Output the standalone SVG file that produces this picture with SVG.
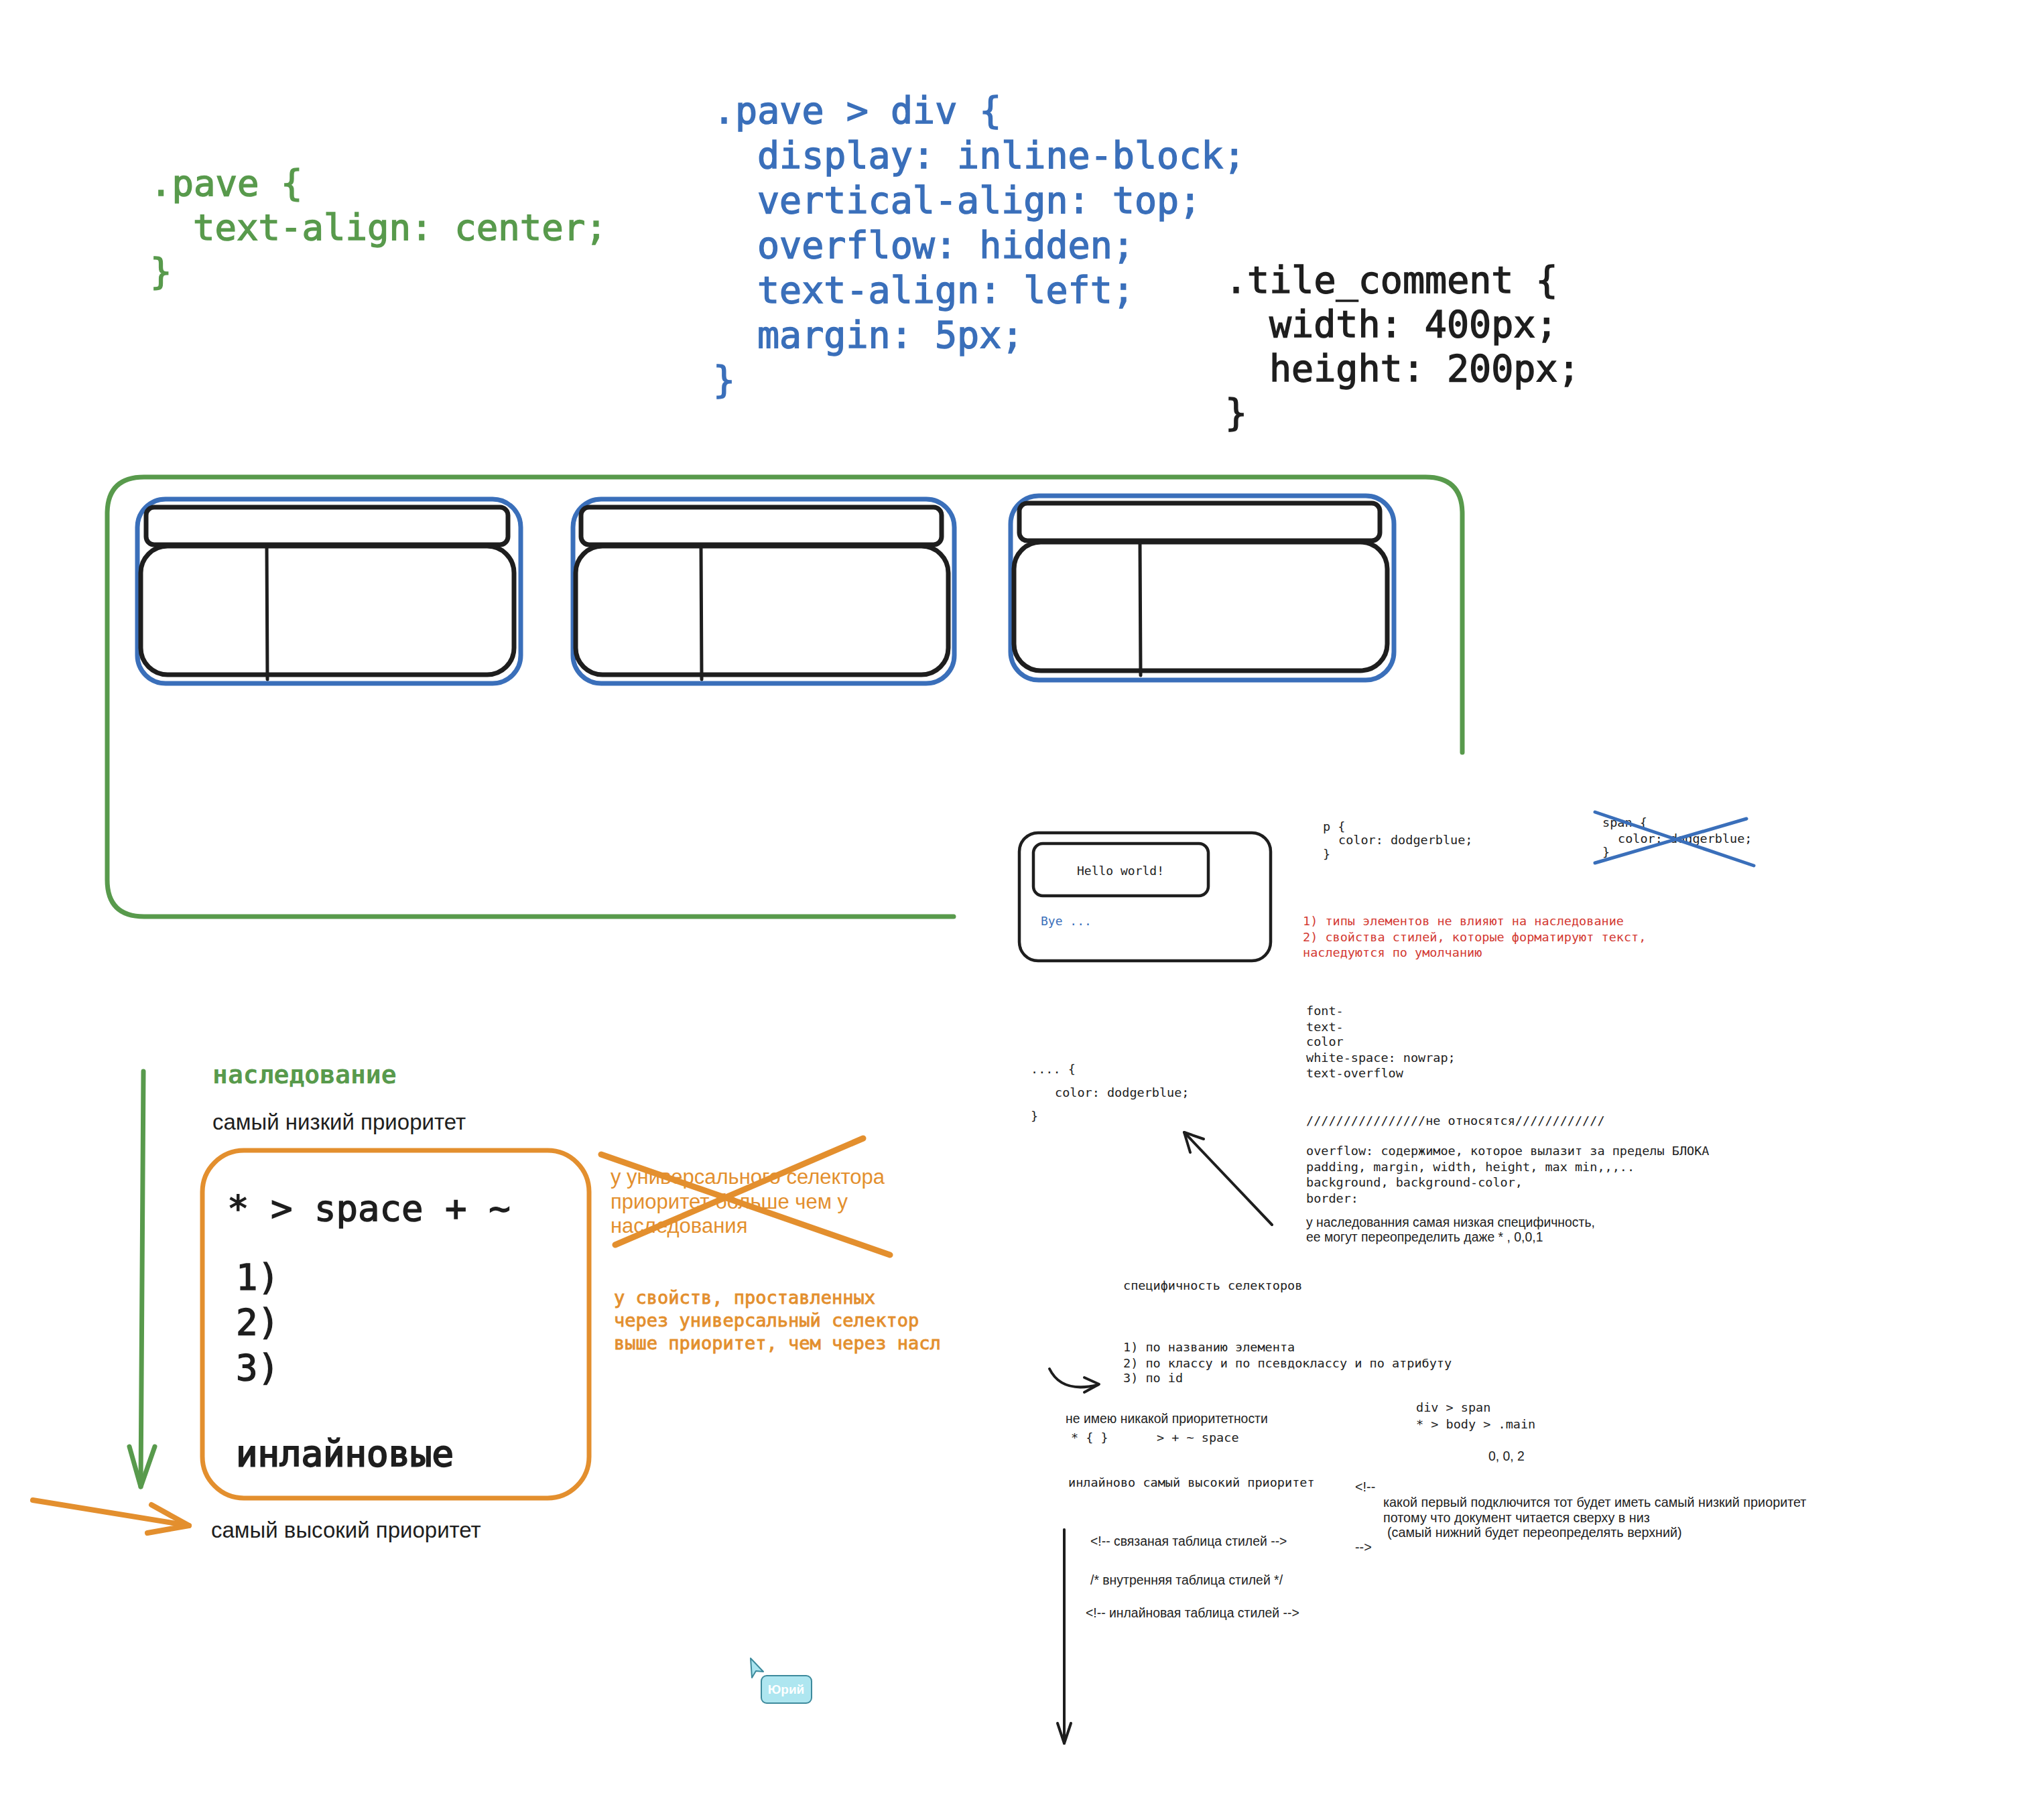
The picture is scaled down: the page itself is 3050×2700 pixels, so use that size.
<svg xmlns="http://www.w3.org/2000/svg" width="3050" height="2700" viewBox="0 0 3050 2700">
  <style>
    .mono { font-family: "DejaVu Sans Mono", "Liberation Mono", monospace; }
    .sans { font-family: "Liberation Sans", Arial, sans-serif; }
    .ink { fill: #1e1e1e; }
    .green { fill: #589a4c; }
    .blue { fill: #3a6fba; }
    .red { fill: #d33a33; }
    .orange { fill: #e38f2e; }
    .code-big { font-size: 54px; }
    .code-small { font-size: 18.5px; }
    .note { font-size: 19.4px; }
    .heavy-green { stroke: #589a4c; stroke-width: 1.4; }
    .heavy-blue { stroke: #3a6fba; stroke-width: 1.4; }
    .heavy-ink { stroke: #1e1e1e; stroke-width: 1.4; }
    .heavy-orange { stroke: #e38f2e; stroke-width: 0.9; }
    .tile-outer { fill: none; stroke: #3a6fba; stroke-width: 7; }
    .tile-inner { fill: none; stroke: #1e1e1e; stroke-width: 7; }
    .tile-split { stroke: #1e1e1e; stroke-width: 5; stroke-linecap: round; }
    .box-thin { fill: none; stroke: #1e1e1e; stroke-width: 4.5; }
    .line-black { fill: none; stroke: #1e1e1e; stroke-width: 4; stroke-linecap: round; stroke-linejoin: round; }
    .line-green { fill: none; stroke: #589a4c; stroke-width: 7; stroke-linecap: round; stroke-linejoin: round; }
    .line-orange { fill: none; stroke: #e38f2e; stroke-width: 8; stroke-linecap: round; stroke-linejoin: round; }
    .cross-blue { fill: none; stroke: #3a6fba; stroke-width: 5; stroke-linecap: round; }
    .cross-orange { fill: none; stroke: #e38f2e; stroke-width: 9; stroke-linecap: round; }
  </style>

  <rect width="3050" height="2700" fill="#ffffff"/>

  <!-- CSS rule blocks -->
  <g id="rule-pave" class="mono code-big green heavy-green">
    <text x="224" y="292">.pave {</text>
    <text x="288" y="358">text-align: center;</text>
    <text x="224" y="424">}</text>
  </g>

  <g id="rule-pave-div" class="mono blue heavy-blue" font-size="55">
    <text x="1064" y="184">.pave &gt; div {</text>
    <text x="1130" y="251">display: inline-block;</text>
    <text x="1130" y="318">vertical-align: top;</text>
    <text x="1130" y="385">overflow: hidden;</text>
    <text x="1130" y="452">text-align: left;</text>
    <text x="1130" y="519">margin: 5px;</text>
    <text x="1064" y="586">}</text>
  </g>

  <g id="rule-tile-comment" class="mono ink heavy-ink" font-size="55">
    <text x="1828" y="437">.tile_comment {</text>
    <text x="1894" y="503">width: 400px;</text>
    <text x="1894" y="569">height: 200px;</text>
    <text x="1828" y="635">}</text>
  </g>

  <!-- pave container with three tiles -->
  <g id="pave-container">
    <path class="line-green" d="M1423,1368 L215,1368 Q160,1368 160,1313 L160,767 Q160,712 215,712 L2127,712 Q2182,712 2182,767 L2182,1123"/>
  </g>

  <g id="tile-1">
    <rect class="tile-outer" x="205" y="745" width="572" height="275" rx="42"/>
    <rect class="tile-inner" x="218" y="757" width="540" height="56" rx="12"/>
    <rect class="tile-inner" x="210" y="815" width="557" height="192" rx="40"/>
    <line class="tile-split" x1="398" y1="815" x2="399" y2="1014"/>
  </g>
  <g id="tile-2">
    <rect class="tile-outer" x="855" y="745" width="569" height="275" rx="42"/>
    <rect class="tile-inner" x="867" y="757" width="538" height="56" rx="12"/>
    <rect class="tile-inner" x="859" y="815" width="556" height="192" rx="40"/>
    <line class="tile-split" x1="1046" y1="815" x2="1047" y2="1014"/>
  </g>
  <g id="tile-3">
    <rect class="tile-outer" x="1508" y="740" width="572" height="275" rx="42"/>
    <rect class="tile-inner" x="1521" y="751" width="538" height="56" rx="12"/>
    <rect class="tile-inner" x="1513" y="809" width="557" height="192" rx="40"/>
    <line class="tile-split" x1="1701" y1="809" x2="1702" y2="1008"/>
  </g>

  <!-- inheritance example -->
  <g id="hello-box">
    <rect class="box-thin" x="1521" y="1243" width="375" height="191" rx="28"/>
    <rect class="box-thin" x="1542" y="1259" width="261" height="78" rx="14"/>
    <text class="mono ink" font-size="18" x="1672" y="1306" text-anchor="middle">Hello world!</text>
    <text class="mono blue" font-size="18" x="1553" y="1381">Bye ...</text>
  </g>

  <g id="rule-p" class="mono code-small ink">
    <text x="1974" y="1240">p {</text>
    <text x="1997" y="1260">color: dodgerblue;</text>
    <text x="1974" y="1281">}</text>
  </g>

  <g id="rule-span" class="mono code-small ink">
    <text x="2391" y="1234">span {</text>
    <text x="2414" y="1258">color: dodgerblue;</text>
    <text x="2391" y="1278">}</text>
    <path class="cross-blue" d="M2380,1212 L2617,1292 M2380,1288 L2606,1222"/>
  </g>

  <g id="inheritance-notes" class="mono code-small red">
    <text x="1944" y="1381">1) типы элементов не влияют на наследование</text>
    <text x="1944" y="1405">2) свойства стилей, которые форматируют текст,</text>
    <text x="1944" y="1428">наследуются по умолчанию</text>
  </g>

  <g id="inherited-props" class="mono code-small ink">
    <text x="1949" y="1515">font-</text>
    <text x="1949" y="1539">text-</text>
    <text x="1949" y="1561">color</text>
    <text x="1949" y="1585">white-space: nowrap;</text>
    <text x="1949" y="1608">text-overflow</text>
    <text x="1949" y="1679">////////////////не относятся////////////</text>
    <text x="1949" y="1724">overflow: содержимое, которое вылазит за пределы БЛОКА</text>
    <text x="1949" y="1748">padding, margin, width, height, max min,,,..</text>
    <text x="1949" y="1771">background, background-color,</text>
    <text x="1949" y="1795">border:</text>
  </g>

  <g id="inheritance-specificity" class="sans note ink">
    <text x="1949" y="1831">у наследованния самая низкая специфичность,</text>
    <text x="1949" y="1853">ее могут переопределить даже * , 0,0,1</text>
  </g>

  <g id="rule-any" class="mono code-small ink">
    <text x="1538" y="1602">.... {</text>
    <text x="1574" y="1637">color: dodgerblue;</text>
    <text x="1538" y="1672">}</text>
  </g>

  <!-- selector specificity -->
  <g id="specificity" class="mono code-small ink">
    <text x="1676" y="1925">специфичность селекторов</text>
    <text x="1676" y="2017">1) по названию элемента</text>
    <text x="1676" y="2041">2) по классу и по псевдоклассу и по атрибуту</text>
    <text x="1676" y="2063">3) по id</text>
  </g>

  <g id="no-priority">
    <text class="sans note ink" x="1590" y="2124">не имею никакой приоритетности</text>
    <text class="mono code-small ink" x="1598" y="2152">* {  }</text>
    <text class="mono code-small ink" x="1726" y="2152">&gt; + ~ space</text>
  </g>

  <g id="combinators" class="mono code-small ink">
    <text x="2113" y="2107">div &gt; span</text>
    <text x="2113" y="2132">* &gt; body &gt; .main</text>
  </g>
  <text id="score" class="sans note ink" x="2221" y="2180">0, 0, 2</text>

  <text id="inline-highest" class="mono code-small ink" x="1594" y="2219">инлайново самый высокий приоритет</text>

  <g id="order-comment" class="sans ink" font-size="19.8">
    <text x="2022" y="2226">&lt;!--</text>
    <text x="2064" y="2249">какой первый подключится тот будет иметь самый низкий приоритет</text>
    <text x="2064" y="2272">потому что документ читается сверху в низ</text>
    <text x="2070" y="2294">(самый нижний будет переопределять верхний)</text>
    <text x="2022" y="2316">--&gt;</text>
  </g>

  <g id="stylesheet-order" class="sans note ink">
    <text x="1627" y="2307">&lt;!-- связаная таблица стилей  --&gt;</text>
    <text x="1627" y="2365">/* внутренняя таблица стилей */</text>
    <text x="1620" y="2414">&lt;!-- инлайновая таблица стилей --&gt;</text>
  </g>

  <!-- priority ladder -->
  <g id="heading-inheritance">
    <text class="mono green" font-size="38" font-weight="bold" x="317" y="1617">наследование</text>
  </g>
  <text id="lowest" class="sans ink" font-size="33" x="317" y="1686">самый низкий приоритет</text>

  <g id="priority-box">
    <rect fill="none" stroke="#e38f2e" stroke-width="7" x="302" y="1717" width="577" height="519" rx="62"/>
    <g class="mono code-big ink heavy-ink">
      <text x="339" y="1822">* &gt; space + ~</text>
      <text x="352" y="1925">1)</text>
      <text x="352" y="1992">2)</text>
      <text x="352" y="2060">3)</text>
      <text x="352" y="2188" stroke-width="2.2">инлайновые</text>
    </g>
  </g>

  <text id="highest" class="sans ink" font-size="33" x="315" y="2295">самый высокий приоритет</text>

  <g id="universal-note">
    <g class="sans orange" font-size="31">
      <text x="911" y="1767">у универсального селектора</text>
      <text x="911" y="1804">приоритет больше чем у</text>
      <text x="911" y="1840">наследования</text>
    </g>
    <path class="cross-orange" d="M897,1723 L1328,1873 M918,1858 L1288,1699"/>
  </g>

  <g id="universal-note-2" class="mono orange heavy-orange" font-size="27">
    <text x="916" y="1946">у свойств, проставленных</text>
    <text x="916" y="1980">через универсальный селектор</text>
    <text x="916" y="2014">выше приоритет, чем через насл</text>
  </g>

  <!-- collaborator cursor -->
  <g id="cursor-yuri">
    <path d="M1120,2475 L1139,2495 L1128,2494 L1122,2504 Z" fill="#a9e4ef" stroke="#3d8a9c" stroke-width="2" stroke-linejoin="round"/>
    <rect x="1136" y="2501" width="75" height="41" rx="8" fill="#aee6f0" stroke="#3d8a9c" stroke-width="2"/>
    <text class="sans" font-size="19" font-weight="bold" fill="#ffffff" x="1173" y="2528" text-anchor="middle">Юрий</text>
  </g>

  <!-- connectors -->
  <g id="connectors">
    <path class="line-green" d="M214,1599 L210,2219"/>
    <path class="line-green" d="M193,2159 L210,2219 L231,2159"/>
    <path class="line-orange" d="M49,2239 L282,2277"/>
    <path class="line-orange" d="M226,2246 L282,2277 L220,2288"/>
    <path class="line-black" d="M1898,1828 L1767,1690"/>
    <path class="line-black" d="M1776,1720 L1767,1690 L1796,1700"/>
    <path class="line-black" d="M1566,2043 Q1584,2080 1638,2067"/>
    <path class="line-black" d="M1618,2056 L1640,2066 L1618,2078"/>
    <path class="line-black" d="M1588,2283 L1588,2602"/>
    <path class="line-black" d="M1578,2572 L1588,2602 L1598,2572"/>
  </g>
</svg>
